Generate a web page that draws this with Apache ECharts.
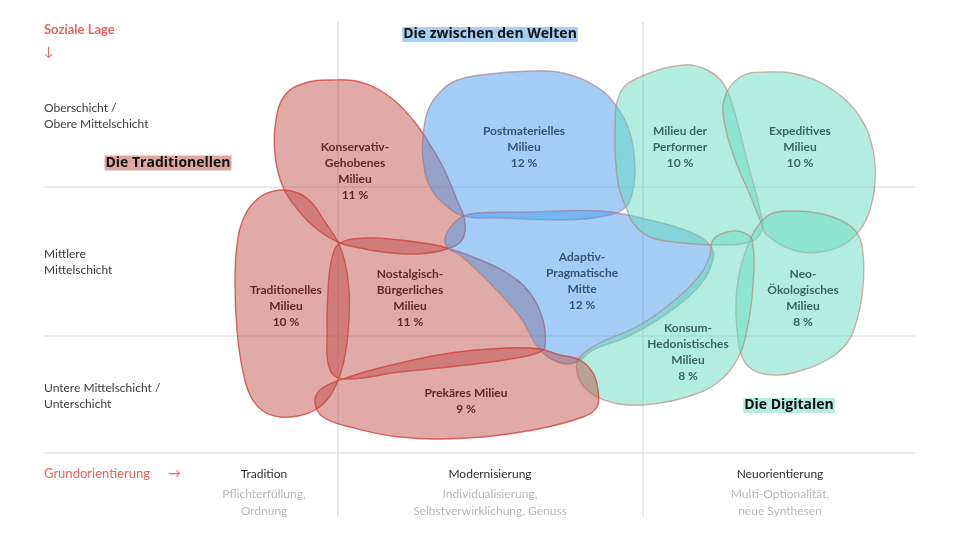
<!DOCTYPE html>
<html><head><meta charset="utf-8">
<script src="https://cdn.jsdelivr.net/npm/echarts@6/dist/echarts.min.js"></script>
<style>html,body{margin:0;padding:0;background:#fff}#c{width:960px;height:540px}</style>
</head><body><div id="c"></div>
<script>
// Map units: x = Grundorientierung axis (0..96), y = Soziale Lage axis (0..54, top to bottom)
const milieuNames = ['Konservativ-\nGehobenes\nMilieu','Traditionelles\nMilieu','Nostalgisch-\nBürgerliches\nMilieu','Postmaterielles\nMilieu','Adaptiv-\nPragmatische\nMitte','Milieu der\nPerformer','Expeditives\nMilieu','Neo-\nÖkologisches\nMilieu','Konsum-\nHedonistisches\nMilieu','Prekäres Milieu'];
const milieuShares = [11, 10, 11, 12, 12, 10, 10, 8, 8, 9];
const milieuGroup = [0, 0, 0, 1, 1, 2, 2, 2, 2, 0];
const milieuLabelPos = [[35.5,17.1],[28.6,30.6],[41.0,29.8],[52.4,14.7],[58.2,28.1],[68.0,14.7],[80.0,14.7],[80.3,29.8],[68.8,35.2],[46.6,40.1]];

const outlineKonservativ = [[33,8],[36,8.2],[39,9.7],[41.3,12],[42.7,14],[44.3,16.7],[45.7,20],[46.5,22.2],[46.2,24],[44.7,24.9],[41.7,25.4],[38.3,25.2],[35.5,24.7],[34,24.3],[31.8,23],[29.8,21],[28.3,18.7],[27.5,15.5],[27.6,12],[28.5,9.5],[30.5,8.3]];
const outlineTraditionell = [[28,19],[29.8,19.3],[31.2,20.3],[32.5,22.2],[33.8,24.2],[34.5,26.2],[34.9,29],[34.9,32],[34.6,35],[34,37.5],[33,39.6],[31.5,41],[29.8,41.6],[28,41.7],[26.3,41.1],[25,39.5],[24.2,36.7],[23.7,33],[23.5,28.5],[23.7,24.5],[24.5,21.5],[26,19.7]];
const outlineNostalgisch = [[34,24.3],[36.7,23.8],[40,24],[43,24.4],[44.7,24.8],[47.3,25.7],[50.7,27.3],[53,29.3],[54.3,32],[54.5,34.7],[54,35.2],[51.7,35.8],[46.7,36.5],[40,37.2],[34.5,37.9],[33,37],[32.7,33],[32.8,29],[33.2,25.8]];
const outlinePostmateriell = [[48,7.5],[53,7.1],[56.3,7.3],[59.7,8.7],[61.7,10.7],[63,13.3],[63.5,16.7],[63.3,19],[62.5,20.8],[60,21.7],[56,22],[50,21.8],[46.3,21.6],[44.3,20.3],[43,18.7],[42.3,16],[42.3,13.7],[42.8,11],[44,9.2],[45.5,8.1]];
const outlineAdaptiv = [[44.5,23.8],[45.5,22.2],[47,21.4],[53,21.2],[60,21.1],[65,22],[69,23.2],[71,24.5],[71.3,26],[70,28.5],[66.5,31.5],[62.7,33.7],[59.3,35],[57.7,36.2],[56,36.3],[54,35],[52,31.7],[48.7,28],[46,25.5],[44.8,24.8]];
const outlinePerformer = [[68.3,6.5],[70.7,7],[72.3,8.3],[73.3,10.7],[74.7,16],[76,21],[76.2,23],[75,24.2],[71.7,24.5],[68.3,24.3],[65,23.7],[63.3,22.3],[62.7,21],[61.8,18.3],[61.5,13.3],[62,9.3],[64,7.7]];
const outlineExpeditiv = [[74,7.7],[76.7,7.2],[80,7.5],[83.3,9],[86,11.7],[87.3,15],[87.5,18.3],[87,21],[86,23],[84.3,24.5],[82,25.2],[79.3,25],[76.7,23.5],[76,22],[75,19.5],[73.7,16.5],[72.6,13],[72.4,10]];
const outlineNeoOeko = [[76,22.3],[77.3,21.3],[79.3,21.1],[81.7,21.3],[84,22],[85.7,23.3],[86.3,25.3],[86.3,28.7],[85.7,32],[84.7,34.3],[82.7,36],[79.3,37.3],[77.3,37.5],[75.3,37],[74.2,35.7],[73.7,33],[73.6,30],[74,27],[75,24]];
const outlineKonsum = [[71.3,24],[72.7,23.2],[74.2,23.2],[75.2,24],[75.3,28.5],[74.7,33],[73.7,36],[71.7,38.3],[68.7,39.7],[64.3,40.5],[61,40.2],[58.7,39],[57.7,37.2],[58,35.7],[60,34.3],[64,32.5],[67.5,30],[70,27.5],[71,25.5]];
const outlinePrekaer = [[34,38],[38.3,36.7],[45,35.3],[50.7,34.8],[54,34.9],[56,35.5],[58,36],[59.3,37.3],[59.8,39],[59.7,40.7],[58.3,41.7],[53.3,43],[46.7,43.8],[40,43.7],[35,42.7],[32.3,41.7],[31.5,40.3],[32,39]];
const outlines = [outlineKonservativ, outlineTraditionell, outlineNostalgisch, outlinePostmateriell, outlineAdaptiv, outlinePerformer, outlineExpeditiv, outlineNeoOeko, outlineKonsum, outlinePrekaer];
const drawOrder = [0, 1, 2, 3, 4, 5, 6, 7, 8, 9];

const groupNames = ['Die Traditionellen', 'Die zwischen den Welten', 'Die Digitalen'];
const groupLabelPos = [[16.8,16.3],[49.0,3.45],[78.9,40.55]];

const rowLabels = ['Oberschicht /\nObere Mittelschicht', 'Mittlere\nMittelschicht', 'Untere Mittelschicht /\nUnterschicht'];
const rowLabelY = [11.65, 26.25, 39.6];
const colTitles = ['Tradition', 'Modernisierung', 'Neuorientierung'];
const colSubtitles = ['Pflichterfüllung,\nOrdnung', 'Individualisierung,\nSelbstverwirklichung, Genuss', 'Multi-Optionalität,\nneue Synthesen'];
const colCenters = [26.4, 49.0, 78.0];
const rowBounds = [18.7, 33.6, 45.3];
const colBounds = [33.8, 64.3];

const fills = ['rgba(190,78,72,0.48)', 'rgba(72,156,236,0.5)', 'rgba(104,220,192,0.5)'];
const strokes = ['rgba(208,62,52,0.75)', 'rgba(170,100,110,0.5)', 'rgba(185,110,100,0.5)'];
const textColors = ['#652826', '#365676', '#3a675c'];
const groupBg = ['#dfa7a4', '#a6cff6', '#b6eddf'];
const FONT = 'Lato, "Noto Sans", sans-serif';

const chart = echarts.init(document.getElementById('c'), null, {renderer: 'canvas'});

const gridLineData = rowBounds.map(v => [0, v]).concat(colBounds.map(v => [1, v]));

chart.setOption({
  animation: false,
  backgroundColor: '#fff',
  grid: {left: 0, right: 0, top: 0, bottom: 0},
  xAxis: {type: 'value', min: 0, max: 96, show: false},
  yAxis: {type: 'value', min: 0, max: 54, inverse: true, show: false},
  series: [
    {
      type: 'custom', coordinateSystem: 'cartesian2d', clip: false, silent: true,
      data: gridLineData,
      renderItem: function (params, api) {
        const kind = api.value(0), v = api.value(1);
        let a, b;
        if (kind === 0) { a = api.coord([4.4, v]); b = api.coord([91.5, v]); }
        else { a = api.coord([v, 2.2]); b = api.coord([v, 51.7]); }
        return {type: 'line', shape: {x1: a[0], y1: a[1], x2: b[0], y2: b[1]}, style: {stroke: '#e3e3e3', lineWidth: 1.6}};
      }
    },
    {
      type: 'custom', coordinateSystem: 'cartesian2d', clip: false, silent: true,
      data: drawOrder.map(i => [i, 0]),
      renderItem: function (params, api) {
        const i = api.value(0);
        const g = milieuGroup[i];
        const pts = outlines[i].map(p => api.coord(p));
        return {type: 'polygon', shape: {points: pts, smooth: 0.4}, style: {fill: fills[g], stroke: strokes[g], lineWidth: 1.4}};
      }
    },
    {
      type: 'custom', coordinateSystem: 'cartesian2d', clip: false, silent: true,
      data: milieuLabelPos.map((p, i) => [p[0], p[1], i]),
      renderItem: function (params, api) {
        const i = api.value(2);
        const c = api.coord([api.value(0), api.value(1)]);
        return {type: 'text', x: c[0], y: c[1], style: {
          text: milieuNames[i] + '\n' + milieuShares[i] + ' %', fill: textColors[milieuGroup[i]],
          font: 'bold 12px ' + FONT, align: 'center', verticalAlign: 'middle', lineHeight: 16}};
      }
    },
    {
      type: 'custom', coordinateSystem: 'cartesian2d', clip: false, silent: true,
      data: groupLabelPos.map((p, i) => [p[0], p[1], i]),
      renderItem: function (params, api) {
        const i = api.value(2);
        const c = api.coord([api.value(0), api.value(1)]);
        return {type: 'text', x: c[0], y: c[1], style: {
          text: groupNames[i], fill: '#111', font: 'bold 14px "Open Sans", "Noto Sans", sans-serif',
          align: 'center', verticalAlign: 'middle', backgroundColor: groupBg[i], padding: [1, 1, 0, 1]}};
      }
    },
    {
      type: 'custom', coordinateSystem: 'cartesian2d', clip: false, silent: true,
      data: rowLabelY.map((y, i) => [4.4, y, i]),
      renderItem: function (params, api) {
        const i = api.value(2);
        const c = api.coord([api.value(0), api.value(1)]);
        return {type: 'text', x: c[0], y: c[1], style: {
          text: rowLabels[i], fill: '#3a3a3a', font: '12px ' + FONT, align: 'left', verticalAlign: 'middle', lineHeight: 16}};
      }
    },
    {
      type: 'custom', coordinateSystem: 'cartesian2d', clip: false, silent: true,
      data: colCenters.map((x, i) => [x, 47.4, i]),
      renderItem: function (params, api) {
        const i = api.value(2);
        const c = api.coord([api.value(0), api.value(1)]);
        const c2 = api.coord([api.value(0), 50.3]);
        return {type: 'group', children: [
          {type: 'text', x: c[0], y: c[1], style: {text: colTitles[i], fill: '#2e2e2e', font: '12px ' + FONT, align: 'center', verticalAlign: 'middle'}},
          {type: 'text', x: c2[0], y: c2[1], style: {text: colSubtitles[i], fill: '#b9b9b9', font: '12px ' + FONT, align: 'center', verticalAlign: 'middle', lineHeight: 17}}
        ]};
      }
    },
    {
      type: 'custom', coordinateSystem: 'cartesian2d', clip: false, silent: true,
      data: [[4.4, 3.0, 0], [4.4, 5.2, 1], [4.4, 47.4, 2], [16.8, 47.4, 3]],
      renderItem: function (params, api) {
        const texts = ['Soziale Lage', '↓', 'Grundorientierung', '→'];
        const i = api.value(2);
        const c = api.coord([api.value(0), api.value(1)]);
        return {type: 'text', x: c[0], y: c[1], style: {
          text: texts[i], fill: '#f0625f', font: (i === 0 ? 'bold 13px ' : '13px ') + FONT, align: 'left', verticalAlign: 'middle'}};
      }
    }
  ]
});
</script></body></html>
